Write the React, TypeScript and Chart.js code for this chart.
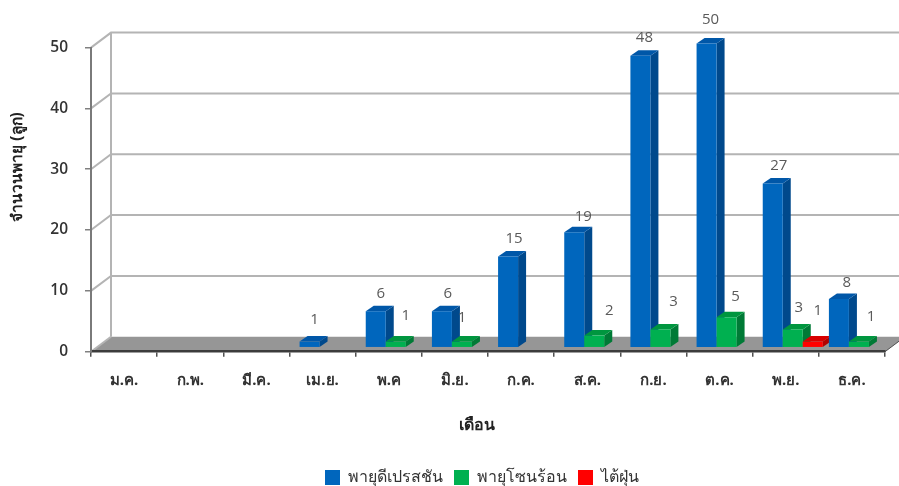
import React, { useEffect, useRef } from "react";
import { Chart, registerables } from "chart.js";

Chart.register(...registerables);

const months = ["ม.ค.", "ก.พ.", "มี.ค.", "เม.ย.", "พ.ค", "มิ.ย.", "ก.ค.", "ส.ค.", "ก.ย.", "ต.ค.", "พ.ย.", "ธ.ค."];
const depression = [null, null, null, 1, 6, 6, 15, 19, 48, 50, 27, 8];
const tropicalStorm = [null, null, null, null, 1, 1, null, 2, 3, 5, 3, 1];
const typhoon = [null, null, null, null, null, null, null, null, null, null, 1, null];

const yTitle = "จำนวนพายุ (ลูก)";
const xTitle = "เดือน";
const thaiFont = "Tahoma, 'Noto Sans', 'DejaVu Sans', sans-serif";

// value-label nudges, [dx from bar centre, dy from bar top], per dataset and month
const labelNudge: Record<string, [number, number]> = {
  "0-3": [5, -22], "0-4": [5, -17], "0-5": [6, -17], "0-6": [6, -18], "0-7": [9, -15],
  "0-8": [4, -18], "0-9": [4, -24], "0-10": [6, -18], "0-11": [8, -16],
  "1-4": [10, -26], "1-5": [0, -24], "1-7": [15, -25], "1-8": [13, -28], "1-9": [9, -21],
  "1-10": [6, -22], "1-11": [12, -25],
  "2-10": [5, -31],
};

const WALL_DX = 20;
const WALL_DY = -15;
const BAR_DX = 8;
const BAR_DY = -5.5;
const PLANE_DX = 7;
const PLANE_DY = -4;

const sideColors = ["#00498c", "#007a36", "#b00000"];
const topColors = ["#0057a8", "#00963f", "#d80000"];

const poly = (ctx: CanvasRenderingContext2D, pts: number[][], fill: string) => {
  ctx.beginPath();
  pts.forEach(([x, y], i) => (i ? ctx.lineTo(x, y) : ctx.moveTo(x, y)));
  ctx.closePath();
  ctx.fillStyle = fill;
  ctx.fill();
};

const box3d = {
  id: "box3d",
  afterLayout(chart: any) {
    const lg = chart.legend;
    lg.left -= 6;
    lg.right -= 6;
    lg.top += 9.6;
    lg.bottom += 9.6;
  },
  beforeDraw(chart: any) {
    const { ctx, scales } = chart;
    const { x, y } = scales;
    const L = x.left;
    const R = x.right;
    const y0 = y.getPixelForValue(0);
    const yMax = y.getPixelForValue(50);
    ctx.save();
    poly(ctx, [[L, y0], [R, y0], [R + WALL_DX, y0 + WALL_DY], [L + WALL_DX, y0 + WALL_DY]], "#969696");
    ctx.strokeStyle = "#b4b4b4";
    ctx.lineWidth = 2;
    y.ticks.forEach((t: any) => {
      const py = y.getPixelForValue(t.value);
      ctx.beginPath();
      ctx.moveTo(L, py);
      ctx.lineTo(L + WALL_DX, py + WALL_DY);
      if (t.value !== 0) ctx.lineTo(R + WALL_DX, py + WALL_DY);
      ctx.stroke();
    });
    ctx.beginPath();
    ctx.moveTo(L + WALL_DX, yMax + WALL_DY);
    ctx.lineTo(L + WALL_DX, y0 + WALL_DY);
    ctx.stroke();
    ctx.strokeStyle = "#505050";
    ctx.lineWidth = 1;
    ctx.beginPath();
    ctx.moveTo(R, y0);
    ctx.lineTo(R + WALL_DX, y0 + WALL_DY);
    ctx.stroke();
    ctx.restore();
  },
  beforeDatasetDraw() {
    return false;
  },
  afterDatasetsDraw(chart: any) {
    const { ctx } = chart;
    ctx.save();
    ctx.translate(PLANE_DX, PLANE_DY);
    months.forEach((_, m) => {
      chart.data.datasets.forEach((ds: any, d: number) => {
        if (ds.data[m] == null) return;
        const bar = chart.getDatasetMeta(d).data[m];
        const { x, y, base, width } = bar.getProps(["x", "y", "base", "width"], true);
        const x0 = x - width / 2;
        const x1 = x + width / 2;
        poly(ctx, [[x1, y], [x1 + BAR_DX, y + BAR_DY], [x1 + BAR_DX, base + BAR_DY], [x1, base]], sideColors[d]);
        poly(ctx, [[x0, y], [x1, y], [x1 + BAR_DX, y + BAR_DY], [x0 + BAR_DX, y + BAR_DY]], topColors[d]);
        bar.draw(ctx);
      });
    });
    ctx.font = "15px Tahoma, 'Open Sans', sans-serif";
    ctx.fillStyle = "#5a5a5a";
    ctx.textAlign = "center";
    ctx.textBaseline = "middle";
    chart.data.datasets.forEach((ds: any, d: number) => {
      ds.data.forEach((v: number | null, m: number) => {
        if (v == null) return;
        const bar = chart.getDatasetMeta(d).data[m];
        const [dx, dy] = labelNudge[`${d}-${m}`] || [5, -20];
        ctx.fillText(String(v), bar.x + dx, bar.y + dy);
      });
    });
    ctx.restore();

    ctx.save();
    ctx.fillStyle = "#222222";
    ctx.font = `bold 16px ${thaiFont}`;
    ctx.textAlign = "center";
    ctx.textBaseline = "middle";
    ctx.fillText(xTitle, 477, 425);
    ctx.font = `bold 15.4px ${thaiFont}`;
    ctx.translate(18, 167);
    ctx.rotate(-Math.PI / 2);
    ctx.fillText(yTitle, 0, 0);
    ctx.restore();
  },
};

export default function App() {
  const ref = useRef<HTMLCanvasElement>(null);
  useEffect(() => {
    const chart = new Chart(ref.current!, {
      type: "bar",
      data: {
        labels: months,
        datasets: [
          { label: "พายุดีเปรสชัน", data: depression, backgroundColor: "#0066bd" },
          { label: "พายุโซนร้อน", data: tropicalStorm, backgroundColor: "#00b050" },
          { label: "ไต้ฝุ่น", data: typhoon, backgroundColor: "#ff0000" },
        ],
      } as any,
      options: {
        responsive: false,
        animation: false,
        events: [],
        layout: { padding: { left: 0, right: 14, top: 47.6, bottom: 0 } },
        datasets: { bar: { categoryPercentage: 0.907, barPercentage: 1 } },
        scales: {
          x: {
            afterFit(s: any) { s.height = 97.3; },
            grid: { drawOnChartArea: false, drawTicks: true, tickLength: 5, color: "#505050", lineWidth: 1.5 },
            border: { color: "#3c3c3c", width: 2.5 },
            ticks: { autoSkip: false, maxRotation: 0, padding: 15, color: "#333333", font: { family: thaiFont, size: 15, weight: "bold" } },
          },
          y: {
            min: 0,
            max: 50,
            afterFit(s: any) { s.width = 91; },
            grid: { drawOnChartArea: false, drawTicks: true, tickLength: 6, color: "#808080", lineWidth: 1.5 },
            border: { color: "#7a7a7a", width: 2 },
            ticks: { stepSize: 10, padding: 17, color: "#333333", font: { family: "'Open Sans', sans-serif", size: 15.5, weight: "600" } },
          },
        },
        plugins: {
          tooltip: { enabled: false },
          legend: {
            position: "bottom",
            fullSize: false,
            labels: { boxWidth: 15, boxHeight: 15, padding: 11, color: "#333333", font: { family: thaiFont, size: 16 } },
          },
        },
      } as any,
      plugins: [box3d],
    });
    return () => chart.destroy();
  }, []);
  return (
    <div style={{ position: "absolute", left: 0, top: 0, width: 899, height: 486 }}>
      <canvas ref={ref} width={899} height={486} style={{ display: "block", filter: "blur(0.4px)" }} />
    </div>
  );
}
